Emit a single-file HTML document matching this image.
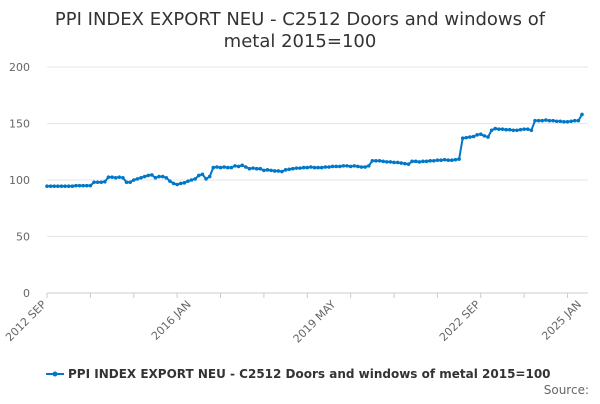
<!DOCTYPE html>
<html><head><meta charset="utf-8"><style>
body{margin:0;width:600px;height:400px;background:#fff;font-family:"DejaVu Sans","Liberation Sans",sans-serif;overflow:hidden}
</style></head><body>
<svg width="600" height="400" xmlns="http://www.w3.org/2000/svg" font-family="DejaVu Sans, Liberation Sans, sans-serif">
<text x="300" y="25" text-anchor="middle" font-size="18" fill="#333">PPI INDEX EXPORT NEU - C2512 Doors and windows of</text>
<text x="300" y="47" text-anchor="middle" font-size="18" fill="#333">metal 2015=100</text>
<g id="grid"></g><g id="xaxis"></g><g id="series"></g>
<g>
<line x1="46" y1="374" x2="64" y2="374" stroke="#0077c8" stroke-width="2"/>
<circle cx="55" cy="374" r="2.5" fill="#0077c8"/>
<text x="68" y="378" font-size="12" font-weight="bold" fill="#333">PPI INDEX EXPORT NEU - C2512 Doors and windows of metal 2015=100</text>
</g>
<text x="589" y="394" text-anchor="end" font-size="12" fill="#666">Source:</text>
</svg>
<script>
const yTicks=[0,50,100,150,200];
const xTickLabels=["2012 SEP","2016 JAN","2019 MAY","2022 SEP","2025 JAN"];
const xTickIdx=[0,40,80,120,148];
const values=[94.5,94.5,94.5,94.5,94.5,94.5,94.5,94.5,95,95,95,95,95,
98,98,98,98.5,
102.5,102.5,102,102.5,102,
98,98,
100,101,102,103,104,104.5,
102,103,103,102,99,97,96,97,97.5,
99,100,101,104,105,101,103,111,
111.5,111,111.5,111,111,112.5,112,113,111.5,
110,110.5,110,110,
108.5,109,108.5,108,108,107.5,
109,109.5,110,110.5,110.5,
111,111,111.5,111,111,111,111.5,111.5,112,112,
112,112.5,112.5,112,112.5,112,111.5,111.5,112.5,
117,117,117,116.5,116,116,115.5,115.5,115,114.5,
114,116.5,116.5,116,116.5,116.5,117,117,117.5,117.5,118,117.5,117.5,118,118.5,
137,137.5,138,138.5,140,140.5,139,138,144,145.5,
145,145,144.5,144.5,144,144,144.5,145,145,144,
152.5,152.5,152.5,153,152.5,152.5,152,152,151.5,151.5,152,152.5,152.5,158];
const NS="http://www.w3.org/2000/svg";
const x0=47,x1=582,yb=293,yt=67;
const xs=i=>x0+(x1-x0)*i/(values.length-1);
const ys=v=>yb-(yb-yt)*v/200;
function mk(t,a,p){const e=document.createElementNS(NS,t);for(const k in a)e.setAttribute(k,a[k]);p.appendChild(e);return e;}
const grid=document.getElementById('grid');
yTicks.forEach(v=>{
 const l=mk('line',{x1:x0,x2:588,y1:ys(v),y2:ys(v),stroke:v===0?'#ccc':'#e6e6e6'},grid);
 
 
 const t=mk('text',{x:30,y:ys(v)+4,'text-anchor':'end','font-size':11,fill:'#666'},grid);
 t.textContent=v;
 
 
});
const xa=document.getElementById('xaxis');
for(let i=0;i<values.length;i+=12){
 const tk=mk('line',{x1:xs(i),x2:xs(i),y1:yb,y2:yb+5,stroke:'#ccc'},xa);
 
 
}
xTickIdx.forEach((idx,k)=>{
 const x=xs(idx);
 const t=mk('text',{x:x,y:yb+12,'text-anchor':'end','font-size':11,fill:'#666',transform:`rotate(-45 ${x} ${yb+12})`},xa);
 t.textContent=xTickLabels[k];
 
 
});
const s=document.getElementById('series');
const p=mk('polyline',{points:values.map((v,i)=>xs(i)+','+ys(v)).join(' '),fill:'none',stroke:'#0077c8','stroke-width':2},s);


values.forEach((v,i)=>{
 const c=mk('circle',{cx:xs(i),cy:ys(v),r:1.8,fill:'#0077c8'},s);
 
 
});
</script>
</body></html>
